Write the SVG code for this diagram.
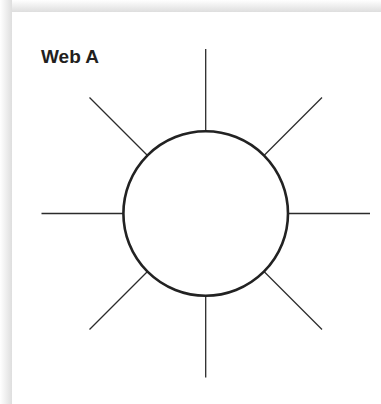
<svg xmlns="http://www.w3.org/2000/svg" width="381" height="404" viewBox="0 0 381 404">
<defs>
<linearGradient id="gTop" x1="0" y1="0" x2="0" y2="1">
<stop offset="0" stop-color="#ffffff"/>
<stop offset="1" stop-color="#dedede"/>
</linearGradient>
<linearGradient id="gLeft" x1="0" y1="0" x2="1" y2="0">
<stop offset="0" stop-color="#ffffff"/>
<stop offset="1" stop-color="#dedede"/>
</linearGradient>
</defs>
<style>
.spoke{stroke:#2b2b2b;stroke-width:1.3;fill:none}
.ring{stroke:#222;stroke-width:2.6;fill:#fff}
.title{font-family:"Liberation Sans",Arial,sans-serif;font-weight:bold;font-size:19px;fill:#231f20}
</style>
<rect width="381" height="404" fill="#fff"/>
<rect x="0" y="0" width="381" height="12" fill="url(#gTop)"/>
<rect x="0" y="0" width="12" height="404" fill="url(#gLeft)"/>
<rect x="12" y="12" width="369" height="392" fill="#fff"/>
<g id="connectors">
<line class="spoke" x1="205.7" y1="49" x2="205.7" y2="131"/>
<line class="spoke" x1="205.7" y1="296" x2="205.7" y2="377.5"/>
<line class="spoke" x1="41.5" y1="213.5" x2="123.4" y2="213.5"/>
<line class="spoke" x1="288" y1="213.5" x2="370" y2="213.5"/>
<line class="spoke" x1="89.5" y1="97.5" x2="147.5" y2="155.5"/>
<line class="spoke" x1="322" y1="97.5" x2="264" y2="155.5"/>
<line class="spoke" x1="89.5" y1="329.5" x2="147.5" y2="271.5"/>
<line class="spoke" x1="322" y1="329.5" x2="264" y2="271.5"/>
</g>
<g id="web">
<circle class="ring" cx="205.7" cy="213.5" r="82.3"/>
</g>
<g id="title">
<text class="title" x="41" y="63.3">Web A</text>
</g>
</svg>
